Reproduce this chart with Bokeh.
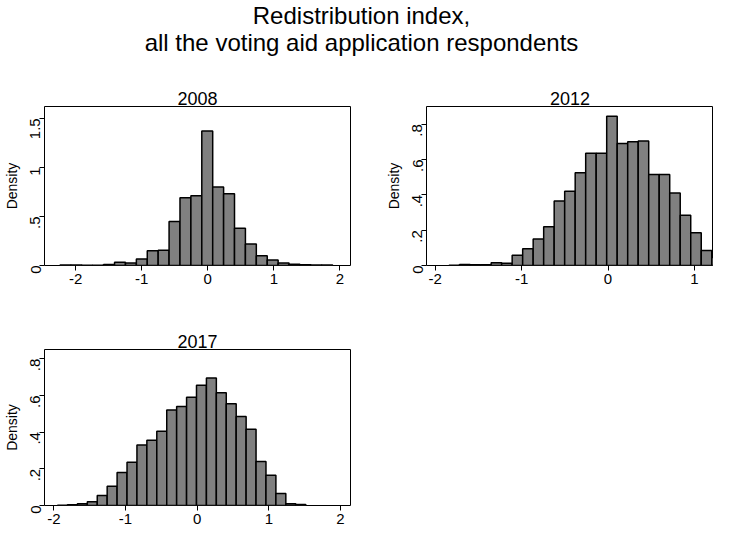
import math
from bokeh.plotting import figure
from bokeh.layouts import column, row
from bokeh.models import Div, Range1d, FixedTicker
from bokeh.embed import file_html
from bokeh.resources import INLINE

# 2008: bin start / width and densities
start_08, w_08 = -2.235, 0.165
dens_08 = [0.005, 0.005, 0.003, 0.003, 0.01, 0.033, 0.025, 0.065, 0.15, 0.155,
           0.448, 0.69, 0.71, 1.37, 0.80, 0.73, 0.38, 0.22, 0.10, 0.055,
           0.025, 0.012, 0.008, 0.005, 0.004]
# 2012
start_12, w_12 = -1.838, 0.1215
dens_12 = [0.002, 0.005, 0.004, 0.004, 0.015, 0.013, 0.058, 0.095, 0.15, 0.22,
           0.365, 0.42, 0.525, 0.635, 0.635, 0.845, 0.69, 0.70, 0.705, 0.515,
           0.515, 0.41, 0.285, 0.185, 0.085, 0.045]
# 2017
start_17, w_17 = -1.948, 0.1385
dens_17 = [0.002, 0.004, 0.01, 0.02, 0.055, 0.105, 0.18, 0.235, 0.33, 0.355,
           0.405, 0.52, 0.54, 0.59, 0.655, 0.695, 0.615, 0.555, 0.485, 0.415,
           0.24, 0.165, 0.065, 0.01, 0.005]

FONT = "Liberation Sans"


def panel(title, start, w, dens, xr, yr, yticks, ylabels, xticks,
          width, height, bl, br, bt, bb):
    p = figure(width=width, height=height, output_backend="svg",
               toolbar_location=None, x_range=Range1d(*xr), y_range=Range1d(*yr),
               min_border_left=bl, min_border_right=br,
               min_border_top=bt, min_border_bottom=bb)
    p.title.text = title
    p.title.align = "center"
    p.title.text_font = FONT
    p.title.text_font_size = "18px"
    p.title.text_font_style = "normal"
    p.title.text_color = "black"
    p.title.standoff = 4
    left = [start + i * w for i in range(len(dens))]
    right = [l + w for l in left]
    p.quad(left=left, right=right, bottom=0, top=dens,
           fill_color="#808080", line_color="black", line_width=1.5)
    p.grid.visible = False
    p.outline_line_color = "black"
    p.outline_line_width = 1
    p.outline_line_alpha = 1
    for ax in (p.xaxis, p.yaxis):
        ax.axis_line_color = None
        ax.major_tick_line_color = "black"
        ax.minor_tick_line_color = None
        ax.major_label_text_font = FONT
        ax.major_label_text_font_size = "15px"
        ax.major_label_text_color = "black"
        ax.major_tick_out = 5
        ax.major_tick_in = 0
    p.xaxis.ticker = FixedTicker(ticks=xticks)
    p.xaxis.major_label_overrides = {t: str(t) for t in xticks}
    p.xaxis.major_label_standoff = 3
    p.yaxis.ticker = FixedTicker(ticks=yticks)
    p.yaxis.major_label_overrides = dict(zip(yticks, ylabels))
    p.yaxis.major_label_orientation = math.pi / 2
    p.yaxis.major_label_standoff = 4
    p.yaxis.axis_label = "Density"
    p.yaxis.axis_label_text_font = FONT
    p.yaxis.axis_label_text_font_size = "14px"
    p.yaxis.axis_label_text_font_style = "normal"
    p.yaxis.axis_label_text_color = "black"
    p.yaxis.axis_label_standoff = 3
    return p


p1 = panel("2008", start_08, w_08, dens_08, (-2.47, 2.16), (0, 1.62),
           [0, 0.5, 1, 1.5], ["0", ".5", "1", "1.5"], [-2, -1, 0, 1, 2],
           362, 215, 38, 12, 22, 34)
p2 = panel("2012", start_12, w_12, dens_12, (-2.1, 1.22), (0, 0.90),
           [0, 0.2, 0.4, 0.6, 0.8], ["0", ".2", ".4", ".6", ".8"], [-2, -1, 0, 1],
           351, 215, 64, 0, 22, 34)
p3 = panel("2017", start_17, w_17, dens_17, (-2.13, 2.14), (0, 0.85),
           [0, 0.2, 0.4, 0.6, 0.8], ["0", ".2", ".4", ".6", ".8"], [-2, -1, 0, 1, 2],
           362, 227, 44, 12, 50, 20)

title = Div(text="Redistribution index,<br>all the voting aid application respondents",
            width=713, height=77,
            styles={"text-align": "center", "font-family": FONT, "font-size": "24px",
                    "line-height": "27px", "width": "713px", "margin-top": "2px",
                    "color": "black"})

p = column(title, row(p1, p2, spacing=0), row(p3), spacing=0)
open("out.html", "w").write(file_html(p, INLINE))
